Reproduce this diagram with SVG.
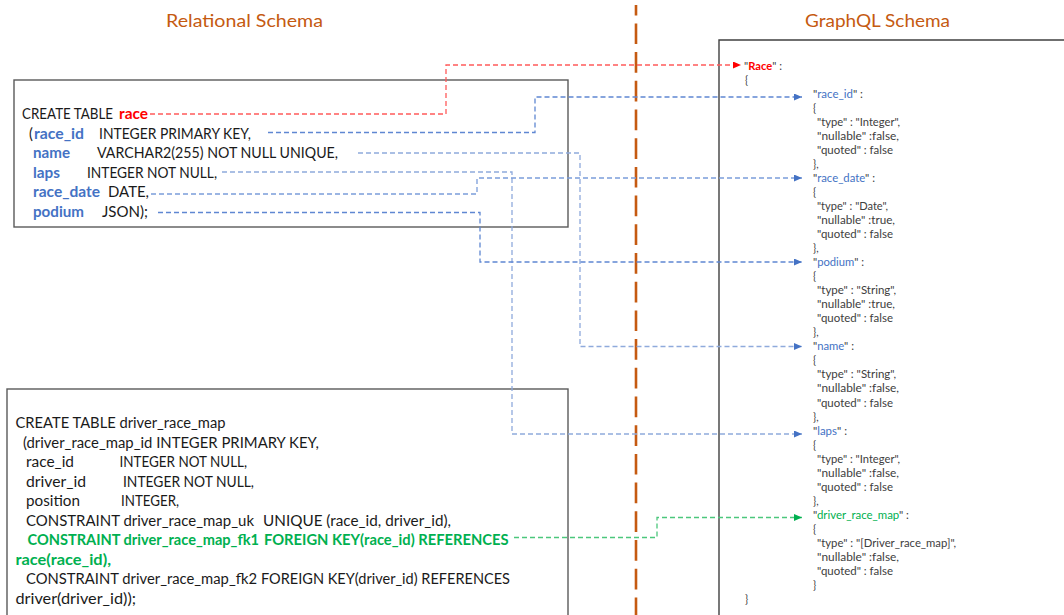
<svg xmlns="http://www.w3.org/2000/svg" width="1064" height="615" viewBox="0 0 1064 615">
<style>
text{font-family:Lato,"Open Sans","Liberation Sans",sans-serif;}
.title{font-size:18px;fill:#C55A11;text-anchor:middle;}
.sql{font-size:14.5px;fill:#1a1a1a;}
.blue{fill:#4472C4;font-weight:bold;}
.red{fill:#FF0000;font-weight:bold;}
.green{fill:#00B050;font-weight:bold;}
.js{font-size:10.5px;fill:#404040;}
.jb{fill:#4472C4;}
.jr{fill:#FF0000;}
.jg{fill:#00B050;}
.box{fill:none;stroke:#5a5a5a;stroke-width:1.4;}
.con{fill:none;stroke-width:1.3;stroke-dasharray:5 3;}
</style>
<defs>
<marker id="ab" viewBox="0 0 8 7" refX="8" refY="3.5" markerWidth="8" markerHeight="7" markerUnits="userSpaceOnUse" orient="auto"><path d="M0,0 L8,3.5 L0,7 z" fill="#4472C4"/></marker>
<marker id="ar" viewBox="0 0 8 7" refX="8" refY="3.5" markerWidth="8" markerHeight="7" markerUnits="userSpaceOnUse" orient="auto"><path d="M0,0 L8,3.5 L0,7 z" fill="#FF0000"/></marker>
<marker id="ag" viewBox="0 0 8 7" refX="8" refY="3.5" markerWidth="8" markerHeight="7" markerUnits="userSpaceOnUse" orient="auto"><path d="M0,0 L8,3.5 L0,7 z" fill="#00B050"/></marker>
</defs>
<rect width="1064" height="615" fill="#ffffff"/>

<g id="titles">
<text class="title" x="244.5" y="26.5" textLength="157" lengthAdjust="spacingAndGlyphs">Relational Schema</text>
<text class="title" x="877.5" y="26.5" textLength="145" lengthAdjust="spacingAndGlyphs">GraphQL Schema</text>
</g>

<g id="divider">
<line x1="636" y1="5" x2="636" y2="615" stroke="#C55A11" stroke-width="2.6" stroke-dasharray="20.7 8" stroke-dashoffset="10.3"/>
</g>

<g id="race-table">
<rect class="box" x="14" y="80" width="554" height="147"/>
<text class="sql" x="22" y="119" textLength="91" lengthAdjust="spacingAndGlyphs">CREATE TABLE</text>
<text class="sql red" x="119" y="119" textLength="29" lengthAdjust="spacingAndGlyphs">race</text>
<text class="sql" x="29" y="138.5">(</text>
<text class="sql blue" x="34" y="138.5" textLength="50" lengthAdjust="spacingAndGlyphs">race_id</text>
<text class="sql" x="99" y="138.5" textLength="152" lengthAdjust="spacingAndGlyphs">INTEGER PRIMARY KEY,</text>
<text class="sql blue" x="33" y="158" textLength="37" lengthAdjust="spacingAndGlyphs">name</text>
<text class="sql" x="97" y="158" textLength="241" lengthAdjust="spacingAndGlyphs">VARCHAR2(255) NOT NULL UNIQUE,</text>
<text class="sql blue" x="33" y="177.5" textLength="27" lengthAdjust="spacingAndGlyphs">laps</text>
<text class="sql" x="87" y="177.5" textLength="130" lengthAdjust="spacingAndGlyphs">INTEGER NOT NULL,</text>
<text class="sql blue" x="33" y="197" textLength="67" lengthAdjust="spacingAndGlyphs">race_date</text>
<text class="sql" x="108" y="197" textLength="41" lengthAdjust="spacingAndGlyphs">DATE,</text>
<text class="sql blue" x="33" y="216.5" textLength="51" lengthAdjust="spacingAndGlyphs">podium</text>
<text class="sql" x="102" y="216.5" textLength="46" lengthAdjust="spacingAndGlyphs">JSON);</text>
</g>

<g id="driver-race-map-table">
<rect class="box" x="7" y="389" width="561" height="240"/>
<text class="sql" x="15.5" y="428" textLength="210" lengthAdjust="spacingAndGlyphs">CREATE TABLE driver_race_map</text>
<text class="sql" x="23" y="447.5" textLength="296" lengthAdjust="spacingAndGlyphs">(driver_race_map_id INTEGER PRIMARY KEY,</text>
<text class="sql" x="26" y="467" textLength="48" lengthAdjust="spacingAndGlyphs">race_id</text>
<text class="sql" x="119.5" y="467" textLength="127.5" lengthAdjust="spacingAndGlyphs">INTEGER NOT NULL,</text>
<text class="sql" x="26" y="486.5" textLength="60" lengthAdjust="spacingAndGlyphs">driver_id</text>
<text class="sql" x="123" y="486.5" textLength="131" lengthAdjust="spacingAndGlyphs">INTEGER NOT NULL,</text>
<text class="sql" x="26" y="506" textLength="54" lengthAdjust="spacingAndGlyphs">position</text>
<text class="sql" x="121" y="506" textLength="58" lengthAdjust="spacingAndGlyphs">INTEGER,</text>
<text class="sql" x="26" y="525.5" textLength="228" lengthAdjust="spacingAndGlyphs">CONSTRAINT driver_race_map_uk</text>
<text class="sql" x="263" y="525.5" textLength="188" lengthAdjust="spacingAndGlyphs">UNIQUE (race_id, driver_id),</text>
<text class="sql green" x="27.5" y="545" textLength="231.5" lengthAdjust="spacingAndGlyphs">CONSTRAINT driver_race_map_fk1</text>
<text class="sql green" x="264" y="545" textLength="244.5" lengthAdjust="spacingAndGlyphs">FOREIGN KEY(race_id) REFERENCES</text>
<text class="sql green" x="15.5" y="564.5" textLength="95.5" lengthAdjust="spacingAndGlyphs">race(race_id),</text>
<text class="sql" x="26" y="584" textLength="231" lengthAdjust="spacingAndGlyphs">CONSTRAINT driver_race_map_fk2</text>
<text class="sql" x="261" y="584" textLength="249" lengthAdjust="spacingAndGlyphs">FOREIGN KEY(driver_id) REFERENCES</text>
<text class="sql" x="15.5" y="603.5" textLength="120.5" lengthAdjust="spacingAndGlyphs">driver(driver_id));</text>
</g>

<g id="graphql-schema">
<path d="M719,615 V40 H1064" fill="none" stroke="#404040" stroke-width="1.4"/>
<text class="js" x="744" y="69.7" textLength="38" lengthAdjust="spacingAndGlyphs">"<tspan class="jr" font-weight="bold">Race</tspan>" :</text>
<text class="js" x="745" y="83.7">{</text>
<text class="js" x="813" y="97.8" textLength="50" lengthAdjust="spacingAndGlyphs">"<tspan class="jb">race_id</tspan>" :</text>
<text class="js" x="813" y="111.8">{</text>
<text class="js" x="817" y="125.8" textLength="83" lengthAdjust="spacingAndGlyphs">"type" : "Integer",</text>
<text class="js" x="817" y="139.9" textLength="82" lengthAdjust="spacingAndGlyphs">"nullable" :false,</text>
<text class="js" x="817" y="153.9" textLength="76" lengthAdjust="spacingAndGlyphs">"quoted" : false</text>
<text class="js" x="813" y="167.9">},</text>
<text class="js" x="813" y="182" textLength="62" lengthAdjust="spacingAndGlyphs">"<tspan class="jb">race_date</tspan>" :</text>
<text class="js" x="813" y="196">{</text>
<text class="js" x="817" y="210" textLength="71" lengthAdjust="spacingAndGlyphs">"type" : "Date",</text>
<text class="js" x="817" y="224.1" textLength="78" lengthAdjust="spacingAndGlyphs">"nullable" :true,</text>
<text class="js" x="817" y="238.1" textLength="76" lengthAdjust="spacingAndGlyphs">"quoted" : false</text>
<text class="js" x="813" y="252.1">},</text>
<text class="js" x="813" y="266.1" textLength="51" lengthAdjust="spacingAndGlyphs">"<tspan class="jb">podium</tspan>" :</text>
<text class="js" x="813" y="280.2">{</text>
<text class="js" x="817" y="294.2" textLength="79" lengthAdjust="spacingAndGlyphs">"type" : "String",</text>
<text class="js" x="817" y="308.2" textLength="78" lengthAdjust="spacingAndGlyphs">"nullable" :true,</text>
<text class="js" x="817" y="322.3" textLength="76" lengthAdjust="spacingAndGlyphs">"quoted" : false</text>
<text class="js" x="813" y="336.3">},</text>
<text class="js" x="813" y="350.3" textLength="41" lengthAdjust="spacingAndGlyphs">"<tspan class="jb">name</tspan>" :</text>
<text class="js" x="813" y="364.4">{</text>
<text class="js" x="817" y="378.4" textLength="79" lengthAdjust="spacingAndGlyphs">"type" : "String",</text>
<text class="js" x="817" y="392.4" textLength="82" lengthAdjust="spacingAndGlyphs">"nullable" :false,</text>
<text class="js" x="817" y="406.5" textLength="76" lengthAdjust="spacingAndGlyphs">"quoted" : false</text>
<text class="js" x="813" y="420.5">},</text>
<text class="js" x="813" y="434.5" textLength="34" lengthAdjust="spacingAndGlyphs">"<tspan class="jb">laps</tspan>" :</text>
<text class="js" x="813" y="448.6">{</text>
<text class="js" x="817" y="462.6" textLength="83" lengthAdjust="spacingAndGlyphs">"type" : "Integer",</text>
<text class="js" x="817" y="476.6" textLength="82" lengthAdjust="spacingAndGlyphs">"nullable" :false,</text>
<text class="js" x="817" y="490.7" textLength="76" lengthAdjust="spacingAndGlyphs">"quoted" : false</text>
<text class="js" x="813" y="504.7">},</text>
<text class="js" x="813" y="518.7" textLength="96" lengthAdjust="spacingAndGlyphs">"<tspan class="jg">driver_race_map</tspan>" :</text>
<text class="js" x="813" y="532.7">{</text>
<text class="js" x="817" y="546.8" textLength="139" lengthAdjust="spacingAndGlyphs">"type" : "[Driver_race_map]",</text>
<text class="js" x="817" y="560.8" textLength="82" lengthAdjust="spacingAndGlyphs">"nullable" :false,</text>
<text class="js" x="817" y="574.8" textLength="76" lengthAdjust="spacingAndGlyphs">"quoted" : false</text>
<text class="js" x="813" y="588.9">}</text>
<text class="js" x="745" y="602.9">}</text>
</g>

<g id="connectors">
<path class="con" d="M150,114 H446 V65 H741" stroke="#FF5B5B" marker-end="url(#ar)"/>
<path class="con" d="M268,132.5 H535 V97 H802" stroke="#5F87D2" marker-end="url(#ab)"/>
<path class="con" d="M358,153 H580 V346.5 H802" stroke="#8FAADC" marker-end="url(#ab)"/>
<path class="con" d="M222,172 H512 V434 H802" stroke="#8FAADC" marker-end="url(#ab)"/>
<path class="con" d="M151,194 H477 V178 H802" stroke="#7B9DDA" marker-end="url(#ab)"/>
<path class="con" d="M158,212.5 H480 V262 H802" stroke="#5F87D2" marker-end="url(#ab)"/>
<path class="con" d="M514,537.5 H657 V517.5 H802" stroke="#4CC77C" marker-end="url(#ag)"/>
</g>
</svg>
